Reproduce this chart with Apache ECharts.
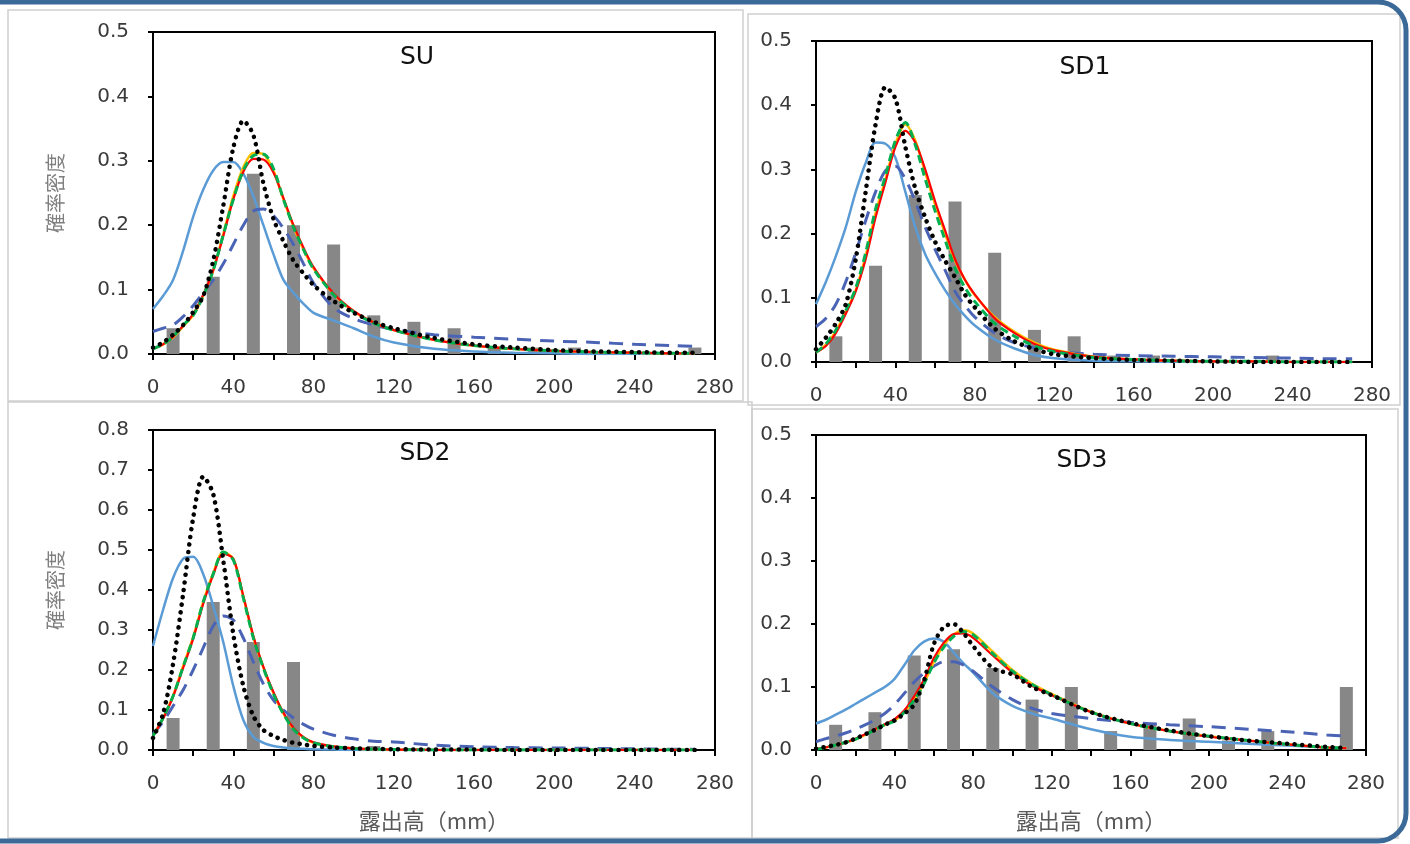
<!DOCTYPE html>
<html><head><meta charset="utf-8">
<script src="https://cdn.jsdelivr.net/npm/echarts@6/dist/echarts.min.js"></script>
<style>html,body{margin:0;padding:0;background:#fff;}#c{width:1410px;height:844px;}</style>
</head><body><div id="c"></div>
<script>
// ---------- data ----------
const xs = [0,5,10,15,20,25,30,35,40,45,50,55,60,65,70,75,80,90,100,110,120,140,160,180,200,220,240,260,270];
const binX = [10,30,50,70,90,110,130,150,170,190,210,230,250,270];
const titles = ['SU','SD1','SD2','SD3'];
const yTicksMax = [0.5,0.5,0.8,0.5];
const yName = '確率密度';
const xName = '露出高（mm）';

// SU
const suBars = [0.04,0.12,0.28,0.20,0.17,0.06,0.05,0.04,0.01,0.01,0.01,0.00,0.00,0.01];
const suLB = [0.070,0.090,0.115,0.160,0.213,0.255,0.285,0.298,0.298,0.280,0.245,0.200,0.155,0.115,0.095,0.078,0.064,0.052,0.040,0.027,0.018,0.008,0.004,0.002,0.001,0.000,0.000,0.000,0.000];
const suDB = [0.035,0.040,0.045,0.058,0.075,0.095,0.115,0.140,0.170,0.200,0.222,0.225,0.215,0.195,0.170,0.140,0.110,0.072,0.055,0.045,0.038,0.030,0.026,0.023,0.020,0.018,0.015,0.013,0.012];
const suOR = [0.008,0.015,0.026,0.043,0.060,0.090,0.130,0.186,0.245,0.290,0.312,0.310,0.285,0.240,0.198,0.162,0.133,0.093,0.066,0.049,0.037,0.022,0.013,0.008,0.005,0.003,0.002,0.001,0.001];
const suRD = [0.008,0.015,0.027,0.044,0.062,0.092,0.130,0.183,0.240,0.283,0.303,0.302,0.282,0.242,0.200,0.165,0.135,0.094,0.067,0.049,0.037,0.022,0.013,0.008,0.005,0.003,0.002,0.001,0.001];
const suGR = [0.008,0.015,0.027,0.045,0.060,0.090,0.130,0.185,0.240,0.285,0.308,0.310,0.288,0.240,0.197,0.162,0.132,0.092,0.065,0.048,0.037,0.022,0.013,0.008,0.005,0.003,0.002,0.001,0.001];
const suBK = [0.010,0.018,0.030,0.045,0.065,0.090,0.145,0.230,0.320,0.362,0.340,0.265,0.210,0.175,0.145,0.125,0.107,0.082,0.064,0.050,0.040,0.025,0.015,0.010,0.006,0.004,0.003,0.002,0.002];

// SD1
const sd1Bars = [0.04,0.15,0.26,0.25,0.17,0.05,0.04,0.01,0.01,0.00,0.00,0.01,0.00,0.00];
const sd1LB = [0.090,0.125,0.165,0.210,0.265,0.310,0.342,0.340,0.318,0.265,0.210,0.168,0.138,0.112,0.090,0.072,0.057,0.035,0.021,0.011,0.006,0.002,0.001,0.000,0.000,0.000,0.000,0.000,0.000];
const sd1DB = [0.055,0.068,0.090,0.125,0.170,0.220,0.265,0.298,0.305,0.285,0.250,0.210,0.175,0.143,0.110,0.088,0.070,0.045,0.030,0.022,0.017,0.012,0.010,0.009,0.008,0.007,0.006,0.005,0.005];
const sd1OR = [0.015,0.027,0.048,0.078,0.112,0.165,0.232,0.285,0.340,0.370,0.345,0.295,0.245,0.200,0.158,0.128,0.104,0.070,0.047,0.030,0.019,0.008,0.004,0.002,0.001,0.001,0.000,0.000,0.000];
const sd1RD = [0.015,0.025,0.045,0.075,0.110,0.160,0.225,0.280,0.335,0.360,0.342,0.300,0.250,0.205,0.160,0.128,0.105,0.068,0.045,0.028,0.018,0.008,0.004,0.002,0.001,0.001,0.000,0.000,0.000];
const sd1GR = [0.015,0.028,0.050,0.080,0.115,0.170,0.238,0.290,0.345,0.373,0.338,0.285,0.235,0.190,0.146,0.116,0.094,0.060,0.040,0.025,0.016,0.007,0.004,0.002,0.001,0.001,0.000,0.000,0.000];
const sd1BK = [0.020,0.038,0.060,0.090,0.160,0.265,0.370,0.428,0.410,0.335,0.270,0.225,0.187,0.158,0.132,0.105,0.085,0.052,0.032,0.020,0.012,0.006,0.003,0.002,0.001,0.000,0.000,0.000,0.000];

// SD2
const sd2Bars = [0.08,0.37,0.27,0.22,0.01,0.01,0.005,0.00,0.00,0.00,0.00,0.00,0.00,0.00];
const sd2LB = [0.260,0.350,0.430,0.478,0.483,0.440,0.360,0.270,0.160,0.075,0.033,0.018,0.010,0.006,0.004,0.003,0.002,0.001,0.000,0.000,0.000,0.000,0.000,0.000,0.000,0.000,0.000,0.000,0.000];
const sd2DB = [0.040,0.070,0.110,0.150,0.200,0.255,0.310,0.335,0.325,0.280,0.220,0.165,0.125,0.100,0.080,0.064,0.052,0.037,0.028,0.022,0.020,0.012,0.008,0.006,0.005,0.004,0.003,0.002,0.002];
const sd2OR = [0.035,0.080,0.136,0.210,0.282,0.370,0.442,0.495,0.478,0.383,0.282,0.206,0.142,0.091,0.053,0.031,0.018,0.008,0.004,0.002,0.001,0.000,0.000,0.000,0.000,0.000,0.000,0.000,0.000];
const sd2RD = [0.035,0.078,0.133,0.205,0.278,0.365,0.438,0.490,0.478,0.385,0.285,0.208,0.145,0.093,0.055,0.032,0.019,0.009,0.004,0.002,0.001,0.000,0.000,0.000,0.000,0.000,0.000,0.000,0.000];
const sd2GR = [0.035,0.080,0.135,0.208,0.280,0.370,0.440,0.495,0.475,0.380,0.280,0.205,0.140,0.090,0.052,0.030,0.018,0.008,0.004,0.002,0.001,0.000,0.000,0.000,0.000,0.000,0.000,0.000,0.000];
const sd2BK = [0.030,0.090,0.215,0.390,0.580,0.683,0.640,0.475,0.290,0.160,0.085,0.050,0.035,0.025,0.018,0.014,0.010,0.006,0.004,0.003,0.002,0.001,0.001,0.000,0.000,0.000,0.000,0.000,0.000];

// SD3
const sd3Bars = [0.04,0.06,0.15,0.16,0.13,0.08,0.10,0.03,0.04,0.05,0.015,0.03,0.00,0.10];
const sd3LB = [0.042,0.048,0.056,0.064,0.073,0.082,0.091,0.100,0.113,0.135,0.158,0.172,0.177,0.172,0.155,0.138,0.123,0.090,0.070,0.058,0.050,0.033,0.021,0.016,0.013,0.010,0.007,0.004,0.003];
const sd3DB = [0.013,0.018,0.022,0.027,0.033,0.040,0.048,0.058,0.072,0.090,0.108,0.122,0.133,0.140,0.140,0.135,0.125,0.100,0.080,0.066,0.058,0.050,0.044,0.040,0.037,0.033,0.029,0.024,0.022];
const sd3OR = [0.001,0.004,0.008,0.012,0.017,0.024,0.032,0.040,0.047,0.060,0.080,0.106,0.140,0.166,0.183,0.190,0.185,0.156,0.127,0.105,0.089,0.061,0.042,0.030,0.022,0.015,0.009,0.004,0.003];
const sd3RD = [0.002,0.004,0.008,0.012,0.018,0.025,0.033,0.041,0.049,0.063,0.085,0.112,0.146,0.170,0.184,0.185,0.178,0.150,0.123,0.102,0.087,0.060,0.042,0.030,0.021,0.015,0.009,0.004,0.003];
const sd3GR = [0.001,0.004,0.008,0.012,0.017,0.024,0.032,0.040,0.046,0.060,0.079,0.105,0.138,0.163,0.180,0.188,0.183,0.153,0.125,0.104,0.088,0.060,0.042,0.030,0.022,0.015,0.009,0.004,0.003];
const sd3BK = [0.002,0.005,0.008,0.012,0.018,0.025,0.032,0.040,0.047,0.058,0.072,0.110,0.168,0.195,0.200,0.186,0.165,0.130,0.120,0.100,0.087,0.060,0.043,0.031,0.022,0.015,0.010,0.005,0.003];

const panelBars = [suBars, sd1Bars, sd2Bars, sd3Bars];
const panelCurves = [
  [suLB, suDB, suOR, suRD, suGR, suBK],
  [sd1LB, sd1DB, sd1OR, sd1RD, sd1GR, sd1BK],
  [sd2LB, sd2DB, sd2OR, sd2RD, sd2GR, sd2BK],
  [sd3LB, sd3DB, sd3OR, sd3RD, sd3GR, sd3BK]
];

// ---------- layout & styles ----------
const FONT = 'DejaVu Sans';
const CJK = '"Noto Sans CJK JP", "Noto Sans CJK SC", sans-serif';
const grids = [
  {left:153, top:32,  width:562, height:322},
  {left:816, top:41,  width:556, height:321},
  {left:153, top:430, width:562, height:320},
  {left:816, top:435, width:550, height:315}
];
const titlePos = [[417,57],[1085,67],[425,453],[1082,460]];
const showYName = [true,false,true,false];
const showXName = [false,false,true,true];
const curveStyles = [
  {color:'#5b9bd5', width:2.5, type:'solid', cap:'butt'},
  {color:'#4a63b5', width:3, type:[14,9], cap:'butt'},
  {color:'#ffc000', width:2.5, type:'solid', cap:'butt'},
  {color:'#ff0000', width:2.2, type:'solid', cap:'butt'},
  {color:'#00b050', width:3, type:[8,5], cap:'butt'},
  {color:'#000000', width:4.5, type:[0.1,7.5], cap:'round'}
];

const option = {
  animation:false,
  backgroundColor:'#ffffff',
  grid: grids.map(g => Object.assign({show:true, borderColor:'#000', borderWidth:2, backgroundColor:'transparent', containLabel:false}, g)),
  xAxis: grids.map((g,i) => ({
    gridIndex:i, type:'value', min:0, max:280, interval:20,
    name: showXName[i] ? xName : '', nameLocation:'middle', nameGap:60,
    nameTextStyle:{fontFamily:CJK, fontSize:22, color:'#595959'},
    axisLine:{show:true, lineStyle:{color:'#000', width:2}},
    axisTick:{show:true, length:6, lineStyle:{color:'#000', width:2}},
    axisLabel:{formatter: v => (v % 40 === 0 ? String(v) : ''), color:'#3a3a3a', fontSize:20, fontFamily:FONT, margin:24},
    splitLine:{show:false}
  })),
  yAxis: grids.map((g,i) => ({
    gridIndex:i, type:'value', min:0, max:yTicksMax[i], interval:0.1,
    name: showYName[i] ? yName : '', nameLocation:'middle', nameGap:88, nameRotate:90,
    nameTextStyle:{fontFamily:CJK, fontSize:20, color:'#7f7f7f'},
    axisLine:{show:true, lineStyle:{color:'#000', width:2}},
    axisTick:{show:true, length:5, lineStyle:{color:'#000', width:2}},
    axisLabel:{formatter: v => v.toFixed(1), color:'#3a3a3a', fontSize:20, fontFamily:FONT, margin:24},
    splitLine:{show:false}
  })),
  series: [],
  graphic: []
};

panelBars.forEach((bars,i) => {
  option.series.push({
    type:'bar', xAxisIndex:i, yAxisIndex:i, barWidth:13, silent:true, z:1,
    itemStyle:{color:'#878787'},
    data: binX.map((x,k) => [x, bars[k]])
  });
  panelCurves[i].forEach((ys,j) => {
    const st = curveStyles[j];
    option.series.push({
      type:'line', xAxisIndex:i, yAxisIndex:i, smooth:0.3,
      showSymbol:false, symbol:'none', silent:true, z:2+j,
      lineStyle:{color:st.color, width:st.width, type:st.type, cap:st.cap},
      data: xs.map((x,k) => [x, ys[k]])
    });
  });
});

// decorative frames
const frameStyle = {fill:'none', stroke:'#cfcfcf', lineWidth:1.5};
[[8,10,735,391],[748,14,652,391],[8,402,744,436],[752,409,646,429]].forEach(r => {
  option.graphic.push({type:'rect', z:-5, silent:true, shape:{x:r[0],y:r[1],width:r[2],height:r[3]}, style:frameStyle});
});
option.graphic.push({type:'rect', z:50, silent:true, shape:{x:-40,y:2,width:1446,height:839,r:28},
  style:{fill:'none', stroke:'#3b6a98', lineWidth:5}});
titles.forEach((t,i) => {
  option.graphic.push({type:'text', z:60, silent:true, x:titlePos[i][0], y:titlePos[i][1],
    style:{text:t, font:'25px "DejaVu Sans"', fill:'#111', align:'center', verticalAlign:'middle'}});
});

const chart = echarts.init(document.getElementById('c'), null, {renderer:'canvas'});
chart.setOption(option);
</script></body></html>
